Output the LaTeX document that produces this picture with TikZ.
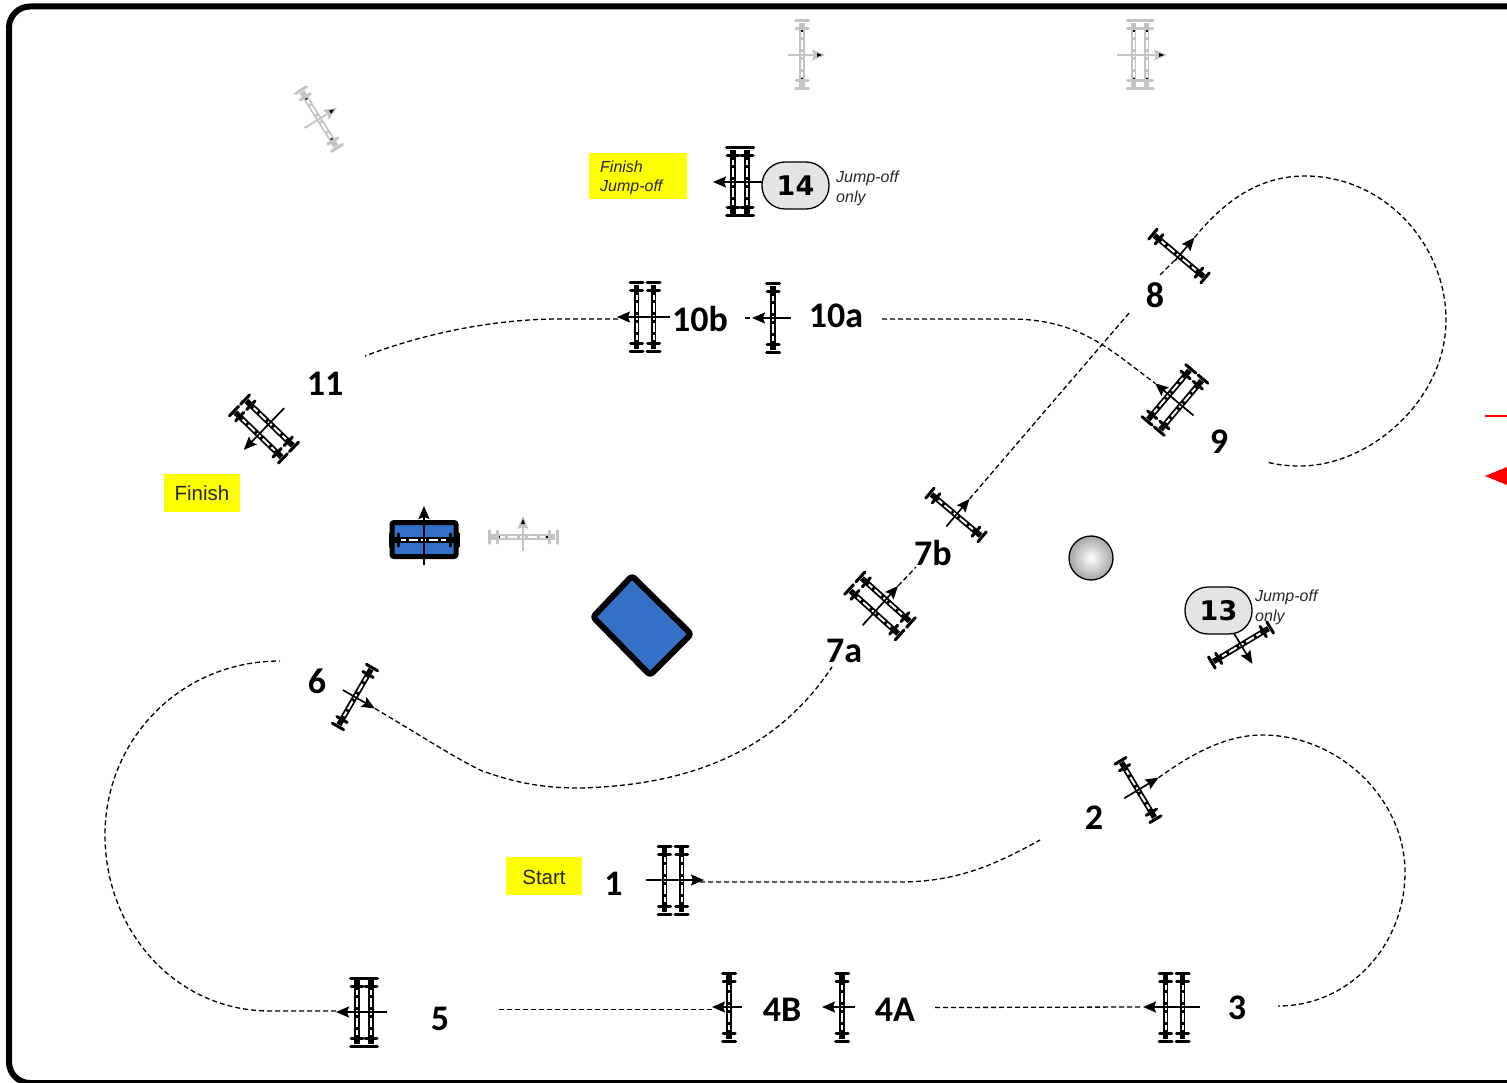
\documentclass[tikz,border=0pt]{standalone}
\usepackage{fontspec}
\setmainfont{Liberation Sans}
\newfontfamily\lblfont{Carlito}
\newfontfamily\numfont{DejaVu Sans}
\usetikzlibrary{arrows.meta}
\definecolor{blueobs}{HTML}{3470C8}
\definecolor{pillgrey}{HTML}{E4E4E4}
\definecolor{greyjump}{HTML}{C4C4C4}
\definecolor{yel}{HTML}{FFFF00}
\tikzset{
  blk/.code={\colorlet{jc}{black}},
  gry/.code={\colorlet{jc}{greyjump}},
  railout/.style={draw=jc,line width=5.6pt},
  railin/.style={draw=white,line width=2pt,dash pattern=on 5pt off 3pt on 9pt off 3pt},
  barline/.style={draw=jc,line width=3pt,line cap=round},
  arrowline/.style={draw=jc,line width=1.7pt,-{Stealth[length=13pt,width=11pt,inset=2pt]}},
  course/.style={draw=black,line width=1.3pt,dash pattern=on 5pt off 3pt},
  bigno/.style={font=\lblfont\bfseries\fontsize{36}{36}\selectfont,inner sep=0pt},
  pill/.style={draw=black,line width=1.3pt,fill=pillgrey,rounded corners=23pt,minimum width=67pt,minimum height=47pt,inner sep=0pt,font=\numfont\bfseries\fontsize{27}{27}\selectfont},
  note/.style={font=\itshape\fontsize{16}{19.5}\selectfont,align=left,inner sep=0pt,anchor=north west,text=black!85},
  sign/.style={fill=yel,inner sep=0pt},
}
% name, x, y, rotation, colour style, rail offsets, tail, tip
\newcommand\fencejump[8]{%
  \begin{scope}[shift={(#2,#3)},rotate=#4,#5]
    \coordinate (#1) at (0,0);
    \foreach \d in {#6}{
      \draw[railout] (\d,-32)--(\d,32);
      \draw[railin] (\d,-23)--(\d,23);
      \fill[black] (\d-1,-26) rectangle (\d+1,-23);
      \fill[black] (\d-1,23) rectangle (\d+1,26);
      \draw[barline] (\d-6.5,-34)--(\d+6.5,-34);
      \draw[barline] (\d-6,-26)--(\d+6,-26);
      \draw[barline] (\d-6.5,34)--(\d+6.5,34);
      \draw[barline] (\d-6,26)--(\d+6,26);
    }
    \coordinate (#1-tip) at (#8,0);
    \draw[arrowline] (-#7,0)--(#1-tip);
    \fill[black] (#8-8,-2)--(#8-3,0)--(#8-8,2)--cycle;
  \end{scope}
}
\begin{document}
\begin{tikzpicture}[x=1pt,y=-1pt]
\useasboundingbox (0,0) rectangle (1507,1083);
\fill[white] (0,0) rectangle (1507,1083);
% frame
\draw[line width=6pt,black,rounded corners=21pt] (1507,6.5)--(9,6.5)--(9,1083)--(1507,1083);
% red marks
\coordinate (redl) at (1485,416);
\coordinate (redt) at (1485,476);
\draw[red,line width=1.6pt] (redl)--(1507,416);
\fill[red] (redt)--(1507,467)--(1507,485)--cycle;

% grey jumps
\fencejump{g1}{319}{119}{32}{gry}{0}{17}{21}
\fencejump{g2}{802}{55}{0}{gry}{0}{14}{23}
\fencejump{g3}{1140}{55}{0}{gry}{-6.5,6.5}{23}{27}
\fencejump{g4}{523}{537}{90}{gry}{0}{14}{21}

% obstacles
\node[draw=black,line width=5pt,fill=blueobs,rounded corners=2pt,minimum width=64pt,minimum height=34pt,inner sep=0pt] (wat) at (424,539.5) {};
\fencejump{wj}{424}{540}{90}{blk}{0}{25}{34}
\draw[line width=6pt,fill=blueobs,rounded corners=3pt,line join=round] (632,576)--(691,634)--(650,675)--(593,617)--cycle;
\shade[inner color=white,outer color=black!35] (1091,558) circle[radius=22];
\draw[line width=1.3pt] (1091,558) circle[radius=22];

% jumps
\fencejump{j1}{673}{880}{0}{blk}{-8.5,8.5}{27}{31}
\fencejump{j2}{1138}{790}{31}{blk}{0}{16}{24}
\fencejump{j3}{1174}{1007}{180}{blk}{-8.5,8.5}{26}{31}
\fencejump{j4a}{842}{1007}{180}{blk}{0}{13}{20}
\fencejump{j4b}{729}{1007}{180}{blk}{0}{13}{17}
\fencejump{j5}{364}{1012}{180}{blk}{-7,7}{23}{28}
\fencejump{j6}{355}{697}{-30}{blk}{0}{14}{23}
\fencejump{j7a}{880}{606}{48}{blk}{-8.5,8.5}{26}{27}
\fencejump{j7b}{956}{515}{50}{blk}{0}{15}{21}
\fencejump{j8}{1179}{256}{50}{blk}{0}{6}{24}
\fencejump{j9}{1175}{400}{140}{blk}{-8,8}{24}{26}
\fencejump{j10a}{773}{318}{180}{blk}{0}{13}{21}
\fencejump{j10b}{645}{317}{180}{blk}{-8.5,8.5}{25}{28}
\fencejump{j11}{264}{429}{226}{blk}{-8,8}{29}{29}
\fencejump{j13}{1241}{645}{-59}{blk}{0}{13}{22}
\fencejump{j14}{740}{182}{180}{blk}{-7,7}{30}{27}

% pills
\node[pill] (p14) at (795.5,185.5) {14};
\node[pill] (p13) at (1218.5,610.5) {13};
\node[note] (n14) at (836,171) {Jump-off\\only};
\node[note] (n13) at (1255,590) {Jump-off\\only};

% signs
\node[sign,minimum width=98pt,minimum height=46pt] (sfj) at (638,176) {};
\node[font=\itshape\fontsize{16}{19}\selectfont,align=left,inner sep=0pt,anchor=north west,text=black!85] (tfj) at (600,161) {Finish\\Jump-off};
\node[sign,minimum width=76pt,minimum height=38pt,font=\fontsize{20.5}{20.5}\selectfont,text=black!85] (sf) at (202,493) {Finish};
\node[sign,minimum width=76pt,minimum height=38pt] (ssb) at (544,876) {};
\node[font=\fontsize{20.5}{20.5}\selectfont,text=black!85,inner sep=0pt] (ss) at (544,877) {Start};

% labels
\node[bigno] (l1) at (613.5,884) {1};
\node[bigno] (l2) at (1094,818) {2};
\node[bigno] (l3) at (1237,1008) {3};
\node[bigno] (l4a) at (895,1010) {4A};
\node[bigno] (l4b) at (782,1010) {4B};
\node[bigno] (l5) at (440,1019) {5};
\node[bigno] (l6) at (317,681) {6};
\node[bigno] (l7a) at (844,650.5) {7a};
\node[bigno] (l7b) at (933,553) {7b};
\node[bigno] (l8) at (1155,295) {8};
\node[bigno] (l9) at (1219,441.5) {9};
\node[bigno] (l10a) at (836,316) {10a};
\node[bigno] (l10b) at (700,319.5) {10b};
\node[bigno] (l11) at (325,384) {11};

% course
\coordinate (c1out) at (700,882);
\coordinate (c2in) at (1040,840);
\draw[course] (c1out)--(900,882) .. controls (960,882) and (1000,862) .. (c2in);
\coordinate (c3in) at (1278,1006);
\draw[course] (j2-tip) .. controls (1190,755) and (1225,735) .. (1262,735) .. controls (1340,735) and (1405,800) .. (1405,872) .. controls (1405,945) and (1350,1006) .. (c3in);
\coordinate (c4in) at (935,1007.5);
\draw[course] (c4in)--(j3-tip);
\coordinate (c5in) at (499,1009.5);
\coordinate (c4out) at (712,1009.5);
\draw[course] (c5in)--(c4out);
\coordinate (c6in) at (280,661);
\coordinate (c5out) at (336,1011);
\draw[course] (c5out)--(270,1011) .. controls (175,1011) and (105,930) .. (105,835) .. controls (105,740) and (180,661) .. (c6in);
\coordinate (c7in) at (832,667);
\draw[course] (j6-tip) .. controls (420,735) and (450,755) .. (480,770) .. controls (520,785) and (550,788) .. (580,788) .. controls (700,785) and (780,745) .. (c7in);
\coordinate (c7bin) at (916,567);
\draw[course] (j7a-tip)--(c7bin);
\coordinate (c8in) at (1130,312);
\draw[course] (j7b-tip)--(c8in);
\coordinate (c8low) at (1160,275);
\draw[course] (c8low)--(j8);
\coordinate (c9in) at (1266,462);
\draw[course] (j8-tip) .. controls (1225,200) and (1260,176) .. (1305,176) .. controls (1385,176) and (1446,245) .. (1446,320) .. controls (1446,400) and (1370,466) .. (1300,466) .. controls (1285,466) and (1275,464) .. (c9in);
\coordinate (c10in) at (882,319);
\draw[course] (c10in)--(1010,319) .. controls (1080,319) and (1110,350) .. (j9-tip);
\coordinate (c10a) at (745,318);
\coordinate (c10b) at (792,318);
\draw[course] (c10a)--(j10a-tip);
\draw[course] (786,318)--(c10b);
\coordinate (c11in) at (365,356);
\coordinate (c10bout) at (618,319);
\draw[course] (c10bout)--(560,319) .. controls (490,319) and (420,335) .. (c11in);
\end{tikzpicture}
\end{document}
